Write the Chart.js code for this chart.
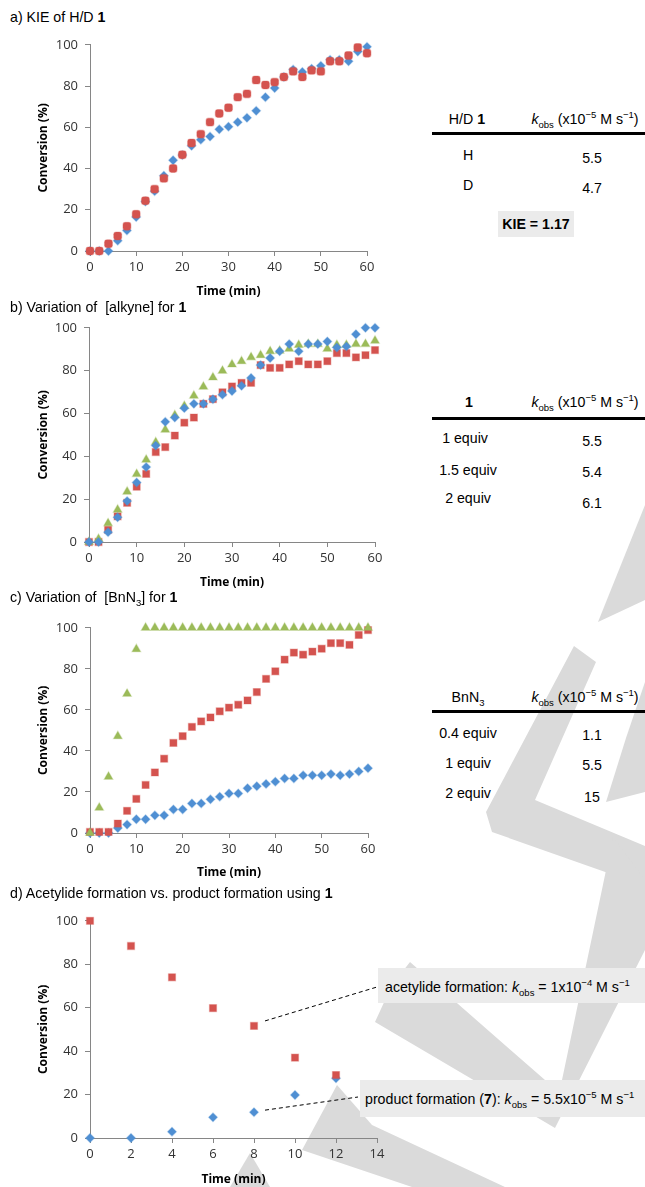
<!DOCTYPE html>
<html><head><meta charset="utf-8">
<script src="https://cdn.jsdelivr.net/npm/chart.js@4.4.1/dist/chart.umd.min.js"></script>
<style>
body{margin:0;width:645px;height:1187px;position:relative;background:#fff;overflow:hidden;font-family:"Liberation Sans",Arial,sans-serif;font-size:14.2px;color:#000}
#wm{position:absolute;left:0;top:0;z-index:0}
canvas{position:absolute;z-index:1}
.t{position:absolute;z-index:2;white-space:nowrap;line-height:16px}
.c{transform:translate(-50%,-50%)}
.l{transform:translateY(-50%)}
.rule{position:absolute;z-index:2;left:432px;width:213px;height:3px;background:#000}
.box{position:absolute;z-index:2;background:#ebebeb}
sub,sup{font-size:9.5px;line-height:0}
</style></head><body>
<svg id="wm" width="645" height="1187" fill="#dadada">
  <polygon points="645,505 645,600 598,622"/>
  <polygon points="574,646 596,662 535,800 645,846 645,886 492,832 486,812"/>
  <polygon points="645,682 645,792 606,802 626,738"/>
  <polygon points="410,962 545,1080 562,1080 613,837 645,880 645,950 555,1128 375,1022 392,985"/>
  <polygon points="337,1085 372,1125 505,1187 412,1187 302,1150"/>
  <polygon points="250,1153 270,1187 230,1187"/>
</svg>

<div class="t l" style="left:10px;top:17px">a) KIE of H/D <b>1</b></div>
<canvas id="cA"></canvas>
<div class="t c" style="left:467px;top:119px">H/D <b>1</b></div>
<div class="t c kh" style="left:585px;top:119px"></div>
<div class="rule" style="top:132px"></div>
<div class="t c" style="left:468px;top:155px">H</div>
<div class="t c" style="left:592px;top:158px">5.5</div>
<div class="t c" style="left:468px;top:185px">D</div>
<div class="t c" style="left:592px;top:188px">4.7</div>
<div class="box" style="left:498px;top:211px;width:76px;height:26px"></div>
<div class="t c" style="left:536px;top:224px"><b>KIE = 1.17</b></div>

<div class="t l" style="left:10px;top:307px">b) Variation of &nbsp;[alkyne] for <b>1</b></div>
<canvas id="cB"></canvas>
<div class="t c" style="left:469px;top:402px"><b>1</b></div>
<div class="t c kh" style="left:585px;top:402px"></div>
<div class="rule" style="top:417px"></div>
<div class="t c" style="left:465px;top:438px">1 equiv</div>
<div class="t c" style="left:592px;top:441px">5.5</div>
<div class="t c" style="left:468px;top:470px">1.5 equiv</div>
<div class="t c" style="left:592px;top:472px">5.4</div>
<div class="t c" style="left:468px;top:498px">2 equiv</div>
<div class="t c" style="left:592px;top:503px">6.1</div>

<div class="t l" style="left:10px;top:597px">c) Variation of &nbsp;[BnN<sub>3</sub>] for <b>1</b></div>
<canvas id="cC"></canvas>
<div class="t c" style="left:468px;top:697px">BnN<sub>3</sub></div>
<div class="t c kh" style="left:585px;top:697px"></div>
<div class="rule" style="top:710px"></div>
<div class="t c" style="left:468px;top:733px">0.4 equiv</div>
<div class="t c" style="left:592px;top:735px">1.1</div>
<div class="t c" style="left:468px;top:763px">1 equiv</div>
<div class="t c" style="left:592px;top:765px">5.5</div>
<div class="t c" style="left:468px;top:793px">2 equiv</div>
<div class="t c" style="left:592px;top:797px">15</div>

<div class="t l" style="left:10px;top:893px">d) Acetylide formation vs. product formation using <b>1</b></div>
<canvas id="cD"></canvas>
<div class="box" style="left:378px;top:968px;width:267px;height:35px"></div>
<div class="t l" style="left:385px;top:987px">acetylide formation: <i>k</i><sub>obs</sub> = 1x10<sup>&minus;4</sup> M s<sup>&minus;1</sup></div>
<div class="box" style="left:360px;top:1080px;width:285px;height:37px"></div>
<div class="t l" style="left:365px;top:1099px">product formation (<b>7</b>): <i>k</i><sub>obs</sub> = 5.5x10<sup>&minus;5</sup> M s<sup>&minus;1</sup></div>

<script>
// time axes (min)
const T60=[0,2,4,6,8,10,12,14,16,18,20,22,24,26,28,30,32,34,36,38,40,42,44,46,48,50,52,54,56,58,60];
const T14=[0,2,4,6,8,10,12];

// a) KIE H/D
const aBlue=[0,0,0,5,10,16.5,24,29,36.5,44,46.5,51,54,55.5,59,60.3,62.5,64.6,68,74.6,79,84.4,88,86.8,88.4,89.8,92.7,92.7,92,96.7,99];
const aRed=[0,0,3.5,7.3,12,17.8,24.4,30,35.2,40,46.7,52.4,56.7,62.5,66.7,69.5,74.6,76.2,82.9,80.5,81.9,84.4,87.1,84.4,87.6,87.1,92,92,94.8,98.7,95.9];

// b) [alkyne]
const bBlue=[0,0,4.6,11.5,19.1,27.8,35,45,56.1,58.1,62.5,64.5,64.5,66.7,68.8,70.5,72.9,76.6,82.6,85.9,89,92.4,89,92.4,92.4,93.6,90.8,91.3,97,100,100];
const bRed=[0,0,5.7,12,18.3,25.8,31.8,42,44.3,49.7,55.7,58.1,64.5,66.7,69.9,72.6,74.3,74.3,82.6,81.3,81.3,82.9,84.4,82.9,82.9,84.4,88.2,88.2,86.2,87.2,89.6];
const bGreen=[0,1.4,8.7,15.1,23.5,31.7,38.4,46.6,52.4,59.2,63.5,68.3,72.5,76.8,79.9,82.9,84.4,86.2,87.2,89,89.3,90.2,92,92.4,92.4,90.2,92,92,92.4,92.4,94];

// c) [BnN3]
const cBlue=[0,0,0,2.4,4.1,6.7,6.7,8.6,8.6,11.5,11.5,14.4,14.4,16.4,17.7,19.3,19.3,21.8,22.8,23.9,25,26.6,26.6,28.1,28.1,28.1,28.7,28.1,28.7,30,31.6];
const cRed=[0.5,0.5,0.5,4.6,10.8,16.6,23.4,29.5,36.2,43.9,47.2,51.7,54.4,56.3,59.3,61.1,62.5,64.6,68.7,75.1,78.8,84.5,87.9,86.9,88.4,89.8,92.5,92.5,91.7,96.5,98.9];
const cGreen=[0,12.3,27.4,47.2,67.8,89.6,100,100,100,100,100,100,100,100,100,100,100,100,100,100,100,100,100,100,100,100,100,100,100,100,100];

// d) acetylide vs product
const dRed=[100,88.4,74,59.8,51.6,37,29];
const dBlue=[0,0,2.9,9.5,11.9,19.8,27.5];

const BLUE="#4f8fd3",RED="#d4534f",GREEN="#9bbb59";
const KH='<i>k</i><sub>obs</sub> (x10<sup>&minus;5</sup> M s<sup>&minus;1</sup>)';
document.querySelectorAll(".kh").forEach(e=>e.innerHTML=KH);

Chart.defaults.animation=false;
Chart.defaults.font.family="'Open Sans',sans-serif";

const pts=(xs,ys)=>xs.map((x,i)=>({x,y:ys[i]}));
const ser=(xs,ys,col,style,r)=>({data:pts(xs,ys),pointStyle:style,pointRadius:r,pointHoverRadius:r,clip:false,
  backgroundColor:col,borderColor:col+"55",borderWidth:1.2,showLine:false});

function mk(id,g,xMax,xStep,sets,plugins){
  const top=g.pt-11, W=g.wide?625:g.pr-20+14, H=g.ty-top+14;
  const cv=document.getElementById(id);
  cv.width=W;cv.height=H;cv.style.left="20px";cv.style.top=top+"px";
  const tickFont={size:13},axCol="#868686";
  return new Chart(cv,{type:"scatter",data:{datasets:sets},plugins:plugins||[],
    options:{responsive:false,maintainAspectRatio:false,
      layout:{padding:{top:11,left:0,bottom:0,right:W-(g.pr-20)}},
      plugins:{legend:{display:false},tooltip:{enabled:false}},
      scales:{
        x:{type:"linear",min:0,max:xMax,
          ticks:{stepSize:xStep,color:"#333",font:tickFont,padding:3,maxRotation:0},
          grid:{drawOnChartArea:false,tickLength:5,color:axCol},border:{color:axCol},
          title:{display:true,text:"Time (min)",color:"#000",font:{size:12,weight:"bold"},padding:{top:0,bottom:6.8}},
          afterFit:s=>{s.height=H-(g.pb-top)}},
        y:{min:0,max:100,
          ticks:{stepSize:20,color:"#333",font:tickFont,padding:7},
          grid:{drawOnChartArea:false,tickLength:5,color:axCol},border:{color:axCol},
          title:{display:true,text:"Conversion (%)",color:"#000",font:{size:12,weight:"bold"},padding:{top:16.8,bottom:0}},
          afterFit:s=>{s.width=g.pl-20}}
      }}});
}

mk("cA",{pl:90,pr:367,pt:41,pb:251,ty:292},60,10,[
  ser(T60,aRed,RED,"rectRounded",4.6),
  ser(T60,aBlue,BLUE,"rectRot",4.4)]);

mk("cB",{pl:89,pr:375,pt:324,pb:542,ty:583},60,10,[
  ser(T60,bBlue,BLUE,"rectRot",4.4),
  ser(T60,bGreen,GREEN,"triangle",5),
  ser(T60,bRed,RED,"rect",5)]);

mk("cC",{pl:90,pr:368,pt:624,pb:833,ty:873},60,10,[
  ser(T60,cGreen,GREEN,"triangle",5),
  ser(T60,cRed,RED,"rect",5),
  ser(T60,cBlue,BLUE,"rectRot",4.4)]);

// leader lines from the t=8 points to the label boxes (box edges in page px)
const leaders={id:"leaders",afterDatasetsDraw(c){
  const x=c.scales.x,y=c.scales.y,ctx=c.ctx,top=906,left=20;
  const L=[{v:dRed[4],dy:-5,ex:377,ey:987},{v:dBlue[4],dy:-2,ex:358,ey:1097}];
  ctx.save();ctx.strokeStyle="#000";ctx.lineWidth=1;ctx.setLineDash([4,3]);
  L.forEach(l=>{ctx.beginPath();ctx.moveTo(x.getPixelForValue(T14[4])+11,y.getPixelForValue(l.v)+l.dy);
    ctx.lineTo(l.ex-left,l.ey-top);ctx.stroke()});
  ctx.restore();
}};
mk("cD",{pl:90,pr:377,pt:917,pb:1138,ty:1180,wide:true},14,2,[
  ser(T14,dRed,RED,"rect",5),
  ser(T14,dBlue,BLUE,"rectRot",4.4)],[leaders]);
</script>
</body></html>
